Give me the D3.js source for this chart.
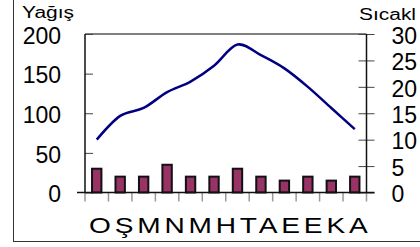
<!DOCTYPE html>
<html>
<head>
<meta charset="utf-8">
<script src="https://cdn.jsdelivr.net/npm/d3@7"></script>
<style>
  body { margin: 0; background: #fff; }
  svg { display: block; font-family: "Liberation Sans", Arial, sans-serif; }
</style>
</head>
<body>
<div id="chart"><svg></svg></div>
<script>
// aylar (months), yagis in mm, sicaklik in degrees
var months = ["O", "Ş", "M", "N", "M", "H", "T", "A", "E", "E", "K", "A"];
var yagis = [30, 20, 20, 35, 20, 20, 30, 20, 15, 20, 15, 20];
var sicaklik = [10, 14.5, 16, 19, 21, 24, 28, 26, 23.5, 20, 16, 12];
var yagisTicks = [0, 50, 100, 150, 200];
var sicakTicks = [0, 5, 10, 15, 20, 25, 30];

var width = 420, height = 247;
var margin = {top: 34, right: 53.5, bottom: 54.5, left: 85};

var svg = d3.select("#chart svg").attr("width", width).attr("height", height);

// outer chart border (top and right run off the picture)
svg.append("rect")
    .attr("x", 13.5).attr("y", -5)
    .attr("width", width).attr("height", 241.5 + 5)
    .style("fill", "#fff")
    .style("stroke", "#333")
    .style("stroke-width", 1);

var x = d3.scaleBand()
    .domain(d3.range(months.length))
    .range([margin.left, width - margin.right]);

var yL = d3.scaleLinear().domain([0, 200]).range([height - margin.bottom, margin.top]);
var yR = d3.scaleLinear().domain([0, 30]).range([height - margin.bottom, margin.top]);

var g = svg.append("g");

// top gridline
g.append("line")
    .attr("x1", x.range()[0]).attr("x2", x.range()[1])
    .attr("y1", yL(200)).attr("y2", yL(200))
    .style("stroke", "#808080").style("stroke-width", 2);

// category ticks below the baseline
g.append("g").selectAll("line")
    .data(d3.range(months.length + 1))
    .enter().append("line")
      .attr("x1", function(d) { return x.range()[0] + d * x.step(); })
      .attr("x2", function(d) { return x.range()[0] + d * x.step(); })
      .attr("y1", yL(0)).attr("y2", yL(0) + 9)
      .style("stroke", "#999").style("stroke-width", 1.5);

// bars
var barW = x.bandwidth() * 0.4;
g.append("g").selectAll("rect")
    .data(yagis)
    .enter().append("rect")
      .attr("x", function(d, i) { return x(i) + (x.bandwidth() - barW) / 2; })
      .attr("y", function(d) { return yL(d); })
      .attr("width", barW)
      .attr("height", function(d) { return yL(0) - yL(d); })
      .style("fill", "#993366")
      .style("stroke", "#111")
      .style("stroke-width", 2);

// temperature line, smoothed like the spreadsheet one
var line = d3.line()
    .x(function(d, i) { return x(i) + x.bandwidth() / 2; })
    .y(function(d) { return yR(d); })
    .curve(d3.curveCardinal.tension(0));

g.append("path")
    .datum(sicaklik)
    .attr("d", line)
    .style("fill", "none")
    .style("stroke", "#000080")
    .style("stroke-width", 2.5);

// left axis
var left = g.append("g")
    .attr("transform", "translate(" + margin.left + ",0)")
    .call(d3.axisLeft(yL).tickValues(yagisTicks).tickSize(8).tickPadding(16));
left.select(".domain").remove();
left.selectAll(".tick line").attr("x2", 8).style("stroke", "#444");
left.selectAll(".tick text")
    .attr("dy", "0.4em")
    .style("font-size", "23px")
    .style("fill", "#000");

// right axis
var right = g.append("g")
    .attr("transform", "translate(" + (width - margin.right) + ",0)")
    .call(d3.axisRight(yR).tickValues(sicakTicks).tickSize(8).tickPadding(17));
right.select(".domain").remove();
right.selectAll(".tick line").attr("x2", 8).attr("x1", -8).style("stroke", "#444");
right.selectAll(".tick text")
    .attr("dy", "0.4em")
    .style("font-size", "23px")
    .style("fill", "#000");

// axis lines
[x.range()[0], x.range()[1]].forEach(function(px) {
  g.append("line")
      .attr("x1", px).attr("x2", px)
      .attr("y1", yL(200)).attr("y2", yL(0))
      .style("stroke", "#111").style("stroke-width", 1.5);
});
g.append("line")
    .attr("x1", x.range()[0] - 8).attr("x2", x.range()[1] + 8)
    .attr("y1", yL(0)).attr("y2", yL(0))
    .style("stroke", "#111").style("stroke-width", 1.5);

// month letters: one run of text, glyphs stretched a bit as in the original
g.append("text")
    .attr("x", x.range()[0] + 4)
    .attr("y", yL(0) + 40)
    .attr("textLength", x.range()[1] - x.range()[0] + 1)
    .attr("lengthAdjust", "spacingAndGlyphs")
    .style("font-size", "22px")
    .style("letter-spacing", "3px")
    .text(months.join(""));

// axis titles
svg.append("text")
    .attr("x", 22).attr("y", 17.5)
    .attr("textLength", 52)
    .attr("lengthAdjust", "spacingAndGlyphs")
    .style("font-size", "16px")
    .text("Yağış");

svg.append("text")
    .attr("x", 359).attr("y", 19.5)
    .attr("textLength", 57)
    .attr("lengthAdjust", "spacingAndGlyphs")
    .style("font-size", "16px")
    .text("Sıcakl");
</script>
</body>
</html>
